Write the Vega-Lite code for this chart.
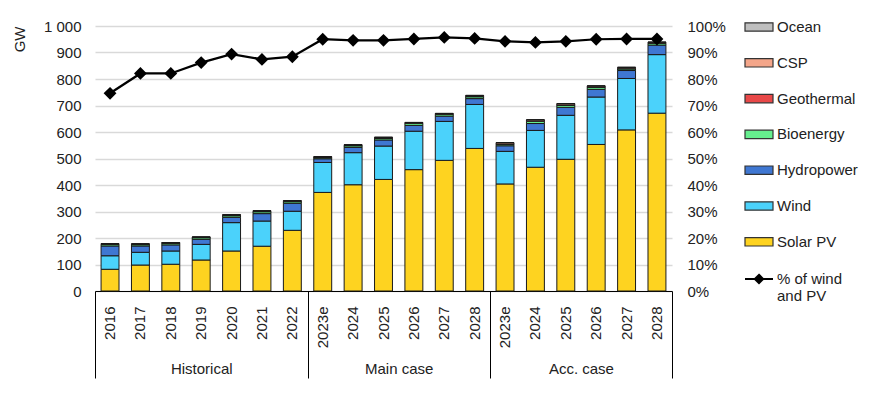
{
  "$schema": "https://vega.github.io/schema/vega-lite/v6.json",
  "width": 577,
  "height": 265,
  "autosize": {"type": "none"},
  "padding": {"left": 95, "top": 26, "right": 201, "bottom": 103},
  "config": {
    "font": "Liberation Sans",
    "view": {"stroke": null},
    "axis": {"labelFontSize": 15, "labelColor": "#222", "titleColor": "#222", "titleFontWeight": "normal", "titleFontSize": 15, "labelFont": "Liberation Sans", "titleFont": "Liberation Sans"},
    "legend": {"labelFontSize": 15, "labelColor": "#222", "labelFont": "Liberation Sans", "padding": 0}
  },
  "datasets": {
    "cap": [
      {"cat": "H2016", "pct": 0.746, "Solar PV": 82, "Wind": 51, "Hydropower": 37, "Bioenergy": 6, "Geothermal": 1, "CSP": 2, "Ocean": 0},
      {"cat": "H2017", "pct": 0.821, "Solar PV": 98, "Wind": 48, "Hydropower": 24, "Bioenergy": 5, "Geothermal": 1, "CSP": 2, "Ocean": 0},
      {"cat": "H2018", "pct": 0.821, "Solar PV": 101, "Wind": 50, "Hydropower": 23, "Bioenergy": 6, "Geothermal": 1, "CSP": 2, "Ocean": 0},
      {"cat": "H2019", "pct": 0.862, "Solar PV": 117, "Wind": 59, "Hydropower": 19, "Bioenergy": 6, "Geothermal": 1, "CSP": 2, "Ocean": 0},
      {"cat": "H2020", "pct": 0.894, "Solar PV": 151, "Wind": 107, "Hydropower": 20, "Bioenergy": 6, "Geothermal": 1, "CSP": 3, "Ocean": 0},
      {"cat": "H2021", "pct": 0.874, "Solar PV": 169, "Wind": 95, "Hydropower": 28, "Bioenergy": 7, "Geothermal": 1, "CSP": 3, "Ocean": 0},
      {"cat": "H2022", "pct": 0.884, "Solar PV": 229, "Wind": 72, "Hydropower": 30, "Bioenergy": 6, "Geothermal": 1, "CSP": 3, "Ocean": 0},
      {"cat": "M2023e", "pct": 0.950, "Solar PV": 372, "Wind": 113, "Hydropower": 14, "Bioenergy": 4, "Geothermal": 1, "CSP": 3, "Ocean": 0},
      {"cat": "M2024", "pct": 0.946, "Solar PV": 401, "Wind": 121, "Hydropower": 20, "Bioenergy": 6, "Geothermal": 1, "CSP": 3, "Ocean": 0},
      {"cat": "M2025", "pct": 0.946, "Solar PV": 421, "Wind": 126, "Hydropower": 23, "Bioenergy": 6, "Geothermal": 1, "CSP": 3, "Ocean": 0},
      {"cat": "M2026", "pct": 0.951, "Solar PV": 458, "Wind": 145, "Hydropower": 22, "Bioenergy": 7, "Geothermal": 1, "CSP": 3, "Ocean": 0},
      {"cat": "M2027", "pct": 0.957, "Solar PV": 493, "Wind": 147, "Hydropower": 20, "Bioenergy": 6, "Geothermal": 1, "CSP": 3, "Ocean": 0},
      {"cat": "M2028", "pct": 0.953, "Solar PV": 538, "Wind": 166, "Hydropower": 22, "Bioenergy": 7, "Geothermal": 1, "CSP": 4, "Ocean": 0},
      {"cat": "A2023e", "pct": 0.942, "Solar PV": 404, "Wind": 123, "Hydropower": 21, "Bioenergy": 6, "Geothermal": 1, "CSP": 5, "Ocean": 0},
      {"cat": "A2024", "pct": 0.938, "Solar PV": 467, "Wind": 139, "Hydropower": 26, "Bioenergy": 8, "Geothermal": 1, "CSP": 5, "Ocean": 0},
      {"cat": "A2025", "pct": 0.942, "Solar PV": 497, "Wind": 166, "Hydropower": 30, "Bioenergy": 8, "Geothermal": 1, "CSP": 5, "Ocean": 0},
      {"cat": "A2026", "pct": 0.950, "Solar PV": 553, "Wind": 179, "Hydropower": 29, "Bioenergy": 8, "Geothermal": 1, "CSP": 4, "Ocean": 0},
      {"cat": "A2027", "pct": 0.951, "Solar PV": 608, "Wind": 194, "Hydropower": 30, "Bioenergy": 6, "Geothermal": 1, "CSP": 5, "Ocean": 0},
      {"cat": "A2028", "pct": 0.951, "Solar PV": 671, "Wind": 221, "Hydropower": 36, "Bioenergy": 6, "Geothermal": 1, "CSP": 4, "Ocean": 0}
    ],
    "techs": [
      {"tech": "Solar PV", "rank": 1},
      {"tech": "Wind", "rank": 2},
      {"tech": "Hydropower", "rank": 3},
      {"tech": "Bioenergy", "rank": 4},
      {"tech": "Geothermal", "rank": 5},
      {"tech": "CSP", "rank": 6},
      {"tech": "Ocean", "rank": 7}
    ]
  },
  "data": {"name": "cap"},
  "resolve": {"scale": {"x": "independent", "y": "independent"}},
  "layer": [
    {
      "resolve": {"scale": {"y": "independent"}},
      "layer": [
        {
          "transform": [
            {"fold": ["Solar PV", "Wind", "Hydropower", "Bioenergy", "Geothermal", "CSP", "Ocean"], "as": ["tech", "gw"]},
            {"lookup": "tech", "from": {"data": {"name": "techs"}, "key": "tech", "fields": ["rank"]}}
          ],
          "mark": {"type": "bar", "stroke": "#1a1a1a", "strokeWidth": 1},
          "encoding": {
            "x": {
              "field": "cat", "type": "nominal",
              "scale": {"domain": ["H2016","H2017","H2018","H2019","H2020","H2021","H2022","M2023e","M2024","M2025","M2026","M2027","M2028","A2023e","A2024","A2025","A2026","A2027","A2028"], "paddingInner": 0.41, "paddingOuter": 0.2},
              "axis": {"orient": "bottom", "title": null, "labelExpr": "slice(datum.label, 1)", "labelAngle": -90, "ticks": false, "domainColor": "#000", "domainWidth": 1, "labelPadding": 15, "labelOverlap": false}
            },
            "y": {
              "field": "gw", "type": "quantitative", "stack": "zero",
              "scale": {"domain": [0, 1000], "nice": false},
              "axis": {"orient": "left", "values": [0,100,200,300,400,500,600,700,800,900,1000], "labelExpr": "replace(format(datum.value, ','), ',', ' ')", "title": "GW", "titleAnchor": "end", "titlePadding": 16, "grid": true, "gridColor": "#d9d9d9", "gridWidth": 1.5, "ticks": false, "domain": false, "labelPadding": 14}
            },
            "color": {
              "field": "tech", "type": "nominal",
              "scale": {"domain": ["Ocean", "CSP", "Geothermal", "Bioenergy", "Hydropower", "Wind", "Solar PV"], "range": ["#bfbfbf", "#f4a68a", "#e84848", "#66ee8e", "#3f77d2", "#4bd2fb", "#fed320"]},
              "legend": {"title": null, "orient": "none", "legendX": 649, "legendY": -14, "symbolType": "M-1,-0.3H1V0.3H-1Z", "symbolSize": 784, "symbolStrokeColor": "#333", "symbolStrokeWidth": 1.2, "symbolOpacity": 1, "labelOffset": 3, "rowPadding": 12.8}
            },
            "order": {"field": "rank", "type": "quantitative", "sort": "ascending"}
          }
        },
        {
          "mark": {"type": "line", "strokeWidth": 2.25, "point": {"shape": "diamond", "size": 100, "filled": true, "color": "black"}},
          "encoding": {
            "x": {"field": "cat", "type": "nominal"},
            "y": {
              "field": "pct", "type": "quantitative",
              "scale": {"domain": [0, 1], "nice": false},
              "axis": {"orient": "right", "values": [0,0.1,0.2,0.3,0.4,0.5,0.6,0.7,0.8,0.9,1], "format": ".0%", "title": null, "grid": false, "ticks": false, "domain": false, "labelPadding": 15}
            },
            "stroke": {
              "datum": "% of wind and PV",
              "scale": {"range": ["black"]},
              "legend": {"title": null, "orient": "none", "legendX": 649, "legendY": 238, "symbolType": "M-1,0H1M0,-0.3L0.3,0L0,0.3L-0.3,0Z", "symbolSize": 784, "symbolStrokeWidth": 2, "symbolFillColor": "black", "symbolStrokeColor": "black", "labelOffset": 3, "labelExpr": "['% of wind', 'and PV']"}
            }
          }
        }
      ]
    },
    {
      "mark": {"type": "point", "opacity": 0},
      "encoding": {
        "x": {
          "datum": 0, "type": "quantitative",
          "scale": {"domain": [0, 19], "nice": false, "zero": false},
          "axis": {"orient": "bottom", "values": [0, 7, 13, 19], "labels": false, "tickSize": 87, "tickColor": "#000", "tickWidth": 1, "domain": false, "grid": false, "title": null}
        }
      }
    },
    {
      "mark": {"type": "point", "opacity": 0},
      "encoding": {
        "x": {
          "datum": 0, "type": "quantitative",
          "scale": {"domain": [0, 19], "nice": false, "zero": false},
          "axis": {"orient": "bottom", "values": [3.5, 10, 16], "labelExpr": "datum.value < 5 ? 'Historical' : (datum.value < 12 ? 'Main case' : 'Acc. case')", "ticks": false, "domain": false, "grid": false, "title": null, "labelPadding": 70, "labelFontSize": 15}
        }
      }
    }
  ]
}
